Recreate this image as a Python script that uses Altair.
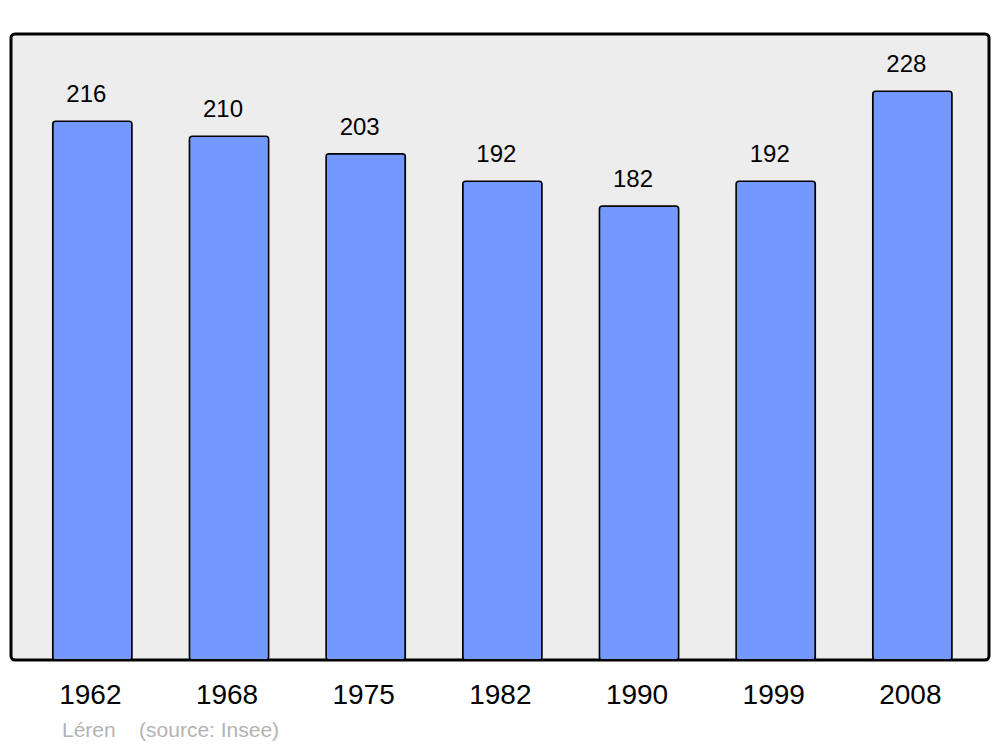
import altair as alt
import pandas as pd

years = ["1962", "1968", "1975", "1982", "1990", "1999", "2008"]
population = [216, 210, 203, 192, 182, 192, 228]

df = pd.DataFrame({"year": years, "pop": population})

FONT = "Liberation Sans"

x = alt.X("year:N", sort=years,
          scale=alt.Scale(paddingInner=0.42, paddingOuter=0.288, align=0.53),
          axis=alt.Axis(title=None, labelAngle=0, ticks=False, domain=False,
                        labelFontSize=28, labelFont=FONT, labelColor="black",
                        labelBaseline="alphabetic", labelPadding=43, grid=False,
                        labelOffset=-2))
y = alt.Y("pop:Q", scale=alt.Scale(domain=[0, 251], nice=False), axis=None)

bars = alt.Chart(df).mark_bar(
    color="#7399ff", stroke="black", strokeWidth=1.5, cornerRadius=3
).encode(x=x, y=y)

labels = alt.Chart(df).mark_text(
    baseline="alphabetic", dy=-19, dx=-6, fontSize=24, font=FONT, color="black"
).encode(x=x, y=y, text="pop:Q")

chart = (bars + labels).properties(
    width=978, height=626,
    background="white",
    padding={"left": 3, "top": 26, "right": 3, "bottom": 5},
    title=alt.TitleParams(
        text="Léren\u00a0\u00a0\u00a0\u00a0(source: Insee)",
        orient="bottom", anchor="start", dx=51, offset=11,
        fontSize=21, font=FONT, fontWeight="normal", color="#b3b3b3",
    ),
).configure_view(
    fill="#ededed", stroke="black", strokeWidth=3, cornerRadius=4
)

chart.save("out.html", embed_options={"renderer": "svg", "actions": False})
